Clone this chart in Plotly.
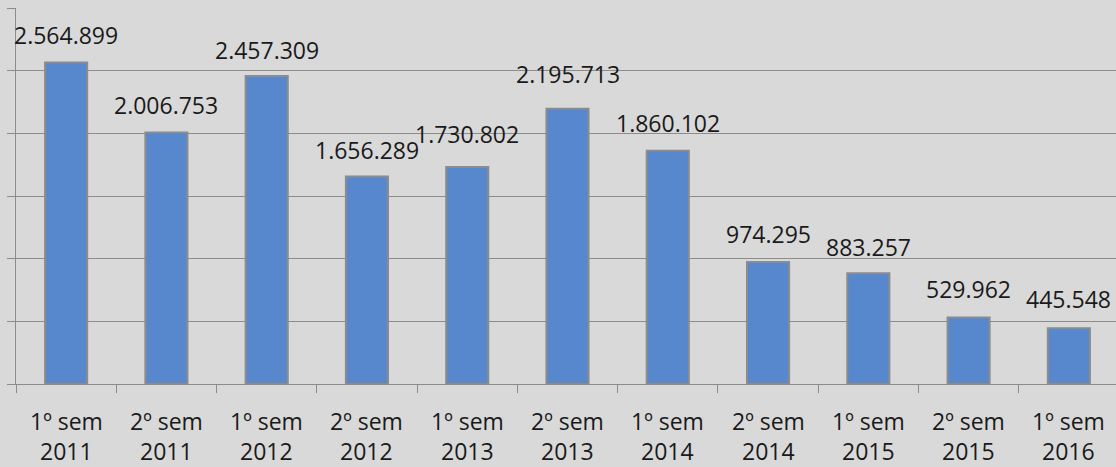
import plotly.graph_objects as go

categories = ["1º sem 2011", "2º sem 2011", "1º sem 2012", "2º sem 2012", "1º sem 2013",
              "2º sem 2013", "1º sem 2014", "2º sem 2014", "1º sem 2015", "2º sem 2015", "1º sem 2016"]
semesters = ["1º sem", "2º sem", "1º sem", "2º sem", "1º sem", "2º sem", "1º sem", "2º sem",
             "1º sem", "2º sem", "1º sem"]
years = ["2011", "2011", "2012", "2012", "2013", "2013", "2014", "2014", "2015", "2015", "2016"]
values = [2564899, 2006753, 2457309, 1656289, 1730802, 2195713, 1860102, 974295, 883257, 529962, 445548]
value_labels = ["2.564.899", "2.006.753", "2.457.309", "1.656.289", "1.730.802", "2.195.713",
                "1.860.102", "974.295", "883.257", "529.962", "445.548"]
label_shift = [28, 27, 26, 26, 33, 35, 28, 28, 26, 29, 29]

BG = "#d9d9d9"
FONT = "Open Sans"
TXT = "#1a1a1a"

fig = go.Figure()
fig.add_trace(go.Bar(
    x=categories, y=values,
    marker=dict(color="#5787cc", line=dict(color="#8c8c8c", width=2)),
    hoverinfo="skip",
))

for c, v, t, s in zip(categories, values, value_labels, label_shift):
    fig.add_annotation(x=c, y=v, text=t, showarrow=False, yanchor="middle", yshift=s,
                       font=dict(family=FONT, size=23, color=TXT))

for c, sem, yr in zip(categories, semesters, years):
    fig.add_annotation(x=c, xref="x", y=0, yref="paper", text=sem, showarrow=False,
                       yanchor="middle", yshift=-37, font=dict(family=FONT, size=23, color=TXT))
    fig.add_annotation(x=c, xref="x", y=0, yref="paper", text=yr, showarrow=False,
                       yanchor="middle", yshift=-67, font=dict(family=FONT, size=23, color=TXT))

fig.update_layout(
    width=1116, height=467,
    margin=dict(l=16, r=0, t=8, b=83, autoexpand=False),
    paper_bgcolor=BG, plot_bgcolor=BG,
    bargap=0.58,
    showlegend=False,
    font=dict(family=FONT, size=23, color=TXT),
)
fig.update_xaxes(
    type="category", showticklabels=False, range=[-0.5, 10.47], automargin=False,
    tickson="boundaries", ticks="outside", ticklen=8, tickcolor="#8c8c8c",
    showline=True, linecolor="#8c8c8c", linewidth=1, showgrid=False,
)
fig.update_yaxes(
    range=[0, 3000000], dtick=500000, showticklabels=False, automargin=False,
    ticks="outside", ticklen=8, tickcolor="#8c8c8c",
    showline=True, linecolor="#8c8c8c", linewidth=1,
    showgrid=True, gridcolor="#8c8c8c", gridwidth=1, zeroline=False,
)

fig.write_html("out.html", config={"displayModeBar": False},
               post_script="document.body.style.margin='0';document.body.style.overflow='hidden';")
